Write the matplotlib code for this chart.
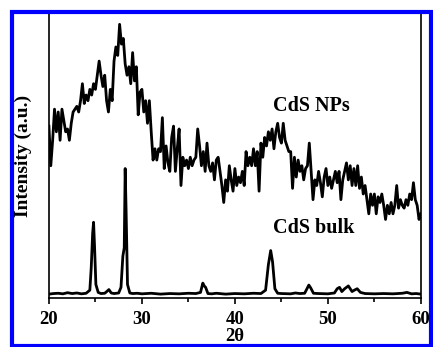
import matplotlib.pyplot as plt
from matplotlib.patches import Rectangle
from matplotlib.ticker import MultipleLocator

# CdS NPs pattern (2theta in steps of 0.2 deg, intensity in arbitrary units)
np_theta = [20 + 0.2 * i for i in range(201)]
np_int = [60, 46, 55, 66, 58, 65, 55, 66, 62, 58,
          59, 55, 61, 65, 66, 67, 65, 69, 75, 68,
          71, 69, 73, 71, 75, 73, 78, 83, 78, 74,
          78, 69, 65, 73, 69, 83, 88, 85, 96, 89,
          91, 82, 78, 81, 75, 86, 76, 81, 64, 72,
          73, 65, 69, 61, 69, 58, 48, 52, 48, 52,
          51, 63, 45, 53, 47, 44, 56, 60, 44, 52,
          59, 39, 49, 46, 48, 45, 49, 46, 48, 49,
          59, 53, 46, 51, 44, 54, 46, 44, 47, 41,
          48, 49, 44, 39, 33, 41, 37, 46, 41, 37,
          45, 39, 42, 40, 44, 39, 51, 46, 49, 46,
          52, 46, 51, 37, 54, 49, 56, 53, 58, 55,
          59, 52, 58, 61, 56, 54, 61, 55, 53, 51,
          51, 38, 49, 42, 48, 44, 46, 41, 45, 46,
          54, 44, 34, 41, 39, 44, 40, 35, 42, 45,
          39, 42, 38, 41, 44, 40, 44, 34, 41, 44,
          47, 41, 46, 39, 45, 39, 46, 38, 42, 36,
          39, 34, 29, 36, 32, 36, 29, 35, 33, 36,
          32, 27, 32, 29, 33, 29, 32, 39, 31, 34,
          32, 31, 34, 32, 36, 34, 40, 34, 32, 27,
          29]

# CdS bulk pattern
bulk_theta = [20, 20.5, 21, 21.5, 22, 22.5, 23, 23.5, 24, 24.4, 24.55, 24.7, 24.8, 24.9, 25.05, 25.3,
              25.6, 26.0, 26.25, 26.45, 26.7, 27.0, 27.5, 27.75, 27.95, 28.1, 28.2, 28.3, 28.45,
              28.7, 29.0, 29.5, 30, 31, 32, 33, 34, 35, 35.8, 36.3, 36.55, 36.7, 36.85, 37.1,
              37.5, 38, 39, 40, 41, 42, 42.8, 43.3, 43.6, 43.85, 44.05, 44.3, 44.6, 45, 46,
              46.5, 47, 47.5, 47.75, 47.95, 48.15, 48.45, 49, 50, 50.7, 51.0, 51.25, 51.5,
              51.8, 52.2, 52.6, 52.85, 53.15, 53.5, 54, 55, 56, 57, 58, 58.5, 59, 59.5, 60]
bulk_int = [0.6, 0.8, 0.9, 0.7, 1.1, 0.8, 1.0, 0.7, 0.9, 2.0, 10, 22, 26, 18, 4, 1.2,
            0.8, 0.9, 1.6, 2.2, 1.0, 0.8, 1.0, 3, 14, 17, 45, 30, 4,
            1.0, 0.8, 0.9, 0.7, 0.9, 0.6, 0.8, 0.7, 0.9, 0.8, 1.2, 4.5, 3.5, 3.0, 0.8,
            0.7, 0.9, 0.6, 0.8, 0.7, 0.9, 0.8, 2, 11, 16, 12, 2.5, 0.9, 0.8, 0.7,
            1.0, 0.8, 0.9, 2.5, 3.8, 2.8, 0.9, 0.8, 0.7, 1.0, 2.5, 3.0, 1.5,
            2.5, 3.5, 1.5, 2.0, 2.5, 1.2, 0.8, 0.7, 0.8, 0.7, 0.9, 1.2, 0.7, 0.8, 0.6]

plt.rcParams['font.family'] = 'Liberation Serif'
plt.rcParams['font.weight'] = 'bold'

fig = plt.figure(figsize=(4.33, 3.47), dpi=100)
ax = fig.add_axes([0.113, 0.141, 0.859, 0.8215])

ax.plot(np_theta, np_int, color='black', lw=2.0)
ax.plot(bulk_theta, bulk_int, color='black', lw=2.0)

ax.text(44.1, 67, 'CdS NPs', fontsize=14.5, fontweight='bold', va='center')
ax.text(44.1, 24, 'CdS bulk', fontsize=14.5, fontweight='bold', va='center')

ax.set_xlim(20, 60)
ax.set_ylim(-0.8, 100)
ax.xaxis.set_major_locator(MultipleLocator(10))
ax.xaxis.set_minor_locator(MultipleLocator(5))
ax.tick_params(axis='x', which='major', direction='out', length=4, width=1.2,
               labelsize=13.5, pad=5)
ax.tick_params(axis='x', which='minor', direction='out', length=3, width=1.2)
ax.set_yticks([])
for s in ax.spines.values():
    s.set_linewidth(1.2)

ax.set_xlabel('2\u03b8', fontsize=13.5, fontweight='bold', labelpad=0)
ax.set_ylabel('Intensity (a.u.)', fontsize=14, fontweight='bold', labelpad=12)

# blue frame around the whole figure
fig.patches.append(Rectangle((12 / 433, 1.5 / 347), 418.5 / 433, 334 / 347,
                             transform=fig.transFigure, fill=False,
                             edgecolor='#0000ff', linewidth=3, zorder=10))

fig.savefig('out.png', dpi=100)
